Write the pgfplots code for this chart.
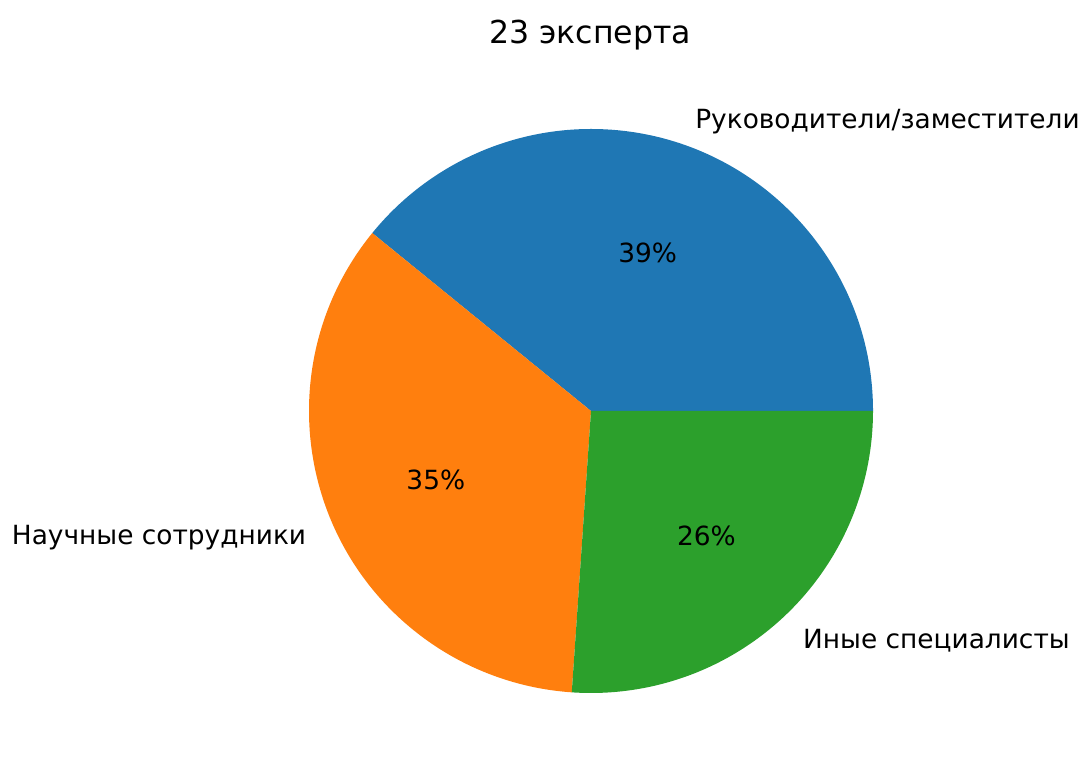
\documentclass[border=0pt]{standalone}
\usepackage{fontspec}
\setmainfont{DejaVu Sans}
\usepackage{pgfplots}
\usepackage{pgfplotstable}
\pgfplotsset{compat=1.18}
\definecolor{cblue}{HTML}{1F77B4}
\definecolor{corange}{HTML}{FF7F0E}
\definecolor{cgreen}{HTML}{2CA02C}

% number of experts in each group
\pgfplotstableread{
value
9
8
6
}\piedata

\begin{document}
\begin{tikzpicture}
\pgfplotstablegetelem{0}{value}\of\piedata \let\va\pgfplotsretval
\pgfplotstablegetelem{1}{value}\of\piedata \let\vb\pgfplotsretval
\pgfplotstablegetelem{2}{value}\of\piedata \let\vc\pgfplotsretval
\pgfmathsetmacro\tot{\va+\vb+\vc}
\pgfmathsetmacro\aa{360*\va/\tot}
\pgfmathsetmacro\ab{\aa+360*\vb/\tot}
\pgfmathsetmacro\ma{\aa/2}
\pgfmathsetmacro\mb{(\aa+\ab)/2}
\pgfmathsetmacro\mc{(\ab+360)/2}
\pgfmathtruncatemacro\pa{round(100*\va/\tot)}
\pgfmathtruncatemacro\pb{round(100*\vb/\tot)}
\pgfmathtruncatemacro\pc{round(100*\vc/\tot)}
\def\cx{591}\def\cy{366}\def\R{282}
\begin{axis}[
    name=ax,
    hide axis,
    scale only axis,
    width=545pt, height=388.5pt,
    xmin=0, xmax=1090, ymin=0, ymax=777,
    enlargelimits=false,
    clip=false,
]
\fill[cblue] (axis cs:\cx,\cy) -- (axis cs:{\cx+\R},\cy) arc[start angle=0, end angle=\aa, radius=141pt] -- cycle;
\fill[corange] (axis cs:\cx,\cy) -- (axis cs:{\cx+\R*cos(\aa)},{\cy+\R*sin(\aa)}) arc[start angle=\aa, end angle=\ab, radius=141pt] -- cycle;
\fill[cgreen] (axis cs:\cx,\cy) -- (axis cs:{\cx+\R*cos(\ab)},{\cy+\R*sin(\ab)}) arc[start angle=\ab, end angle=360, radius=141pt] -- cycle;

\tikzset{lbl/.style={inner sep=0pt, font=\fontsize{13.2}{16}\selectfont}}
\node[lbl, anchor=west] at (axis cs:{\cx+1.1*\R*cos(\ma)},{\cy+1.1*\R*sin(\ma)-3}) {Руководители/заместители};
\node[lbl, anchor=east] at (axis cs:{\cx+1.1*\R*cos(\mb)},{\cy+1.1*\R*sin(\mb)-3}) {Научные сотрудники};
\node[lbl, anchor=west] at (axis cs:{\cx+1.1*\R*cos(\mc)},{\cy+1.1*\R*sin(\mc)-3}) {Иные специалисты};

\node[lbl] at (axis cs:{\cx+0.6*\R*cos(\ma)},{\cy+0.6*\R*sin(\ma)-1}) {\pa\%};
\node[lbl] at (axis cs:{\cx+0.6*\R*cos(\mb)},{\cy+0.6*\R*sin(\mb)-1}) {\pb\%};
\node[lbl] at (axis cs:{\cx+0.6*\R*cos(\mc)},{\cy+0.6*\R*sin(\mc)-1}) {\pc\%};

\node[inner sep=0pt, font=\fontsize{15.8}{19}\selectfont] at (axis cs:590,742) {23 эксперта};
\end{axis}
\pgfresetboundingbox
\path (ax.south west) rectangle (ax.north east);
\end{tikzpicture}
\end{document}
